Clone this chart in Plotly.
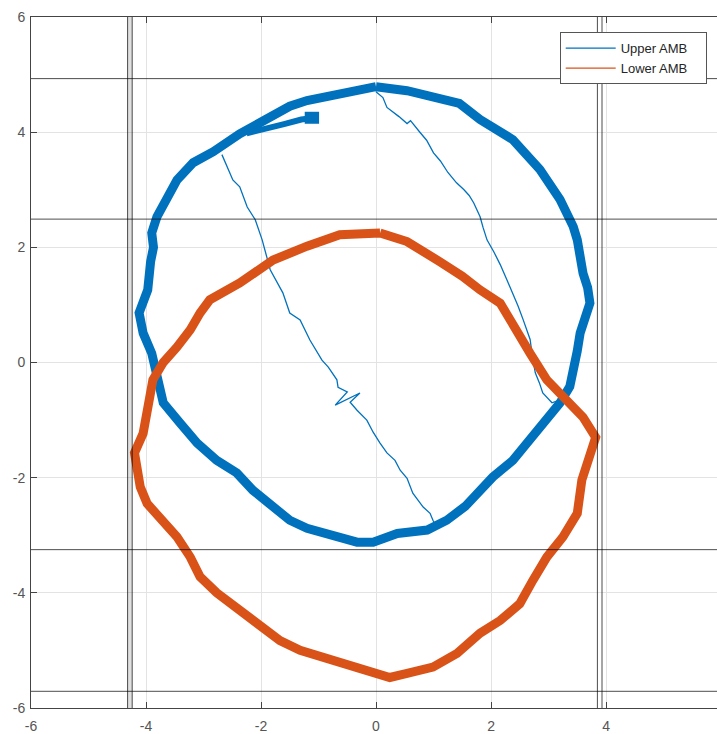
import plotly.graph_objects as go

# ---- data ----
# Upper AMB orbit (centre line of the noisy band)
upper_x = [0.0, -0.63, -1.2, -1.5, -1.79, -2.1, -2.37, -2.83, -3.18, -3.46, -3.63, -3.81, -3.9, -3.87, -3.92,
           -3.97, -4.12, -4.05, -3.9, -3.84, -3.76, -3.7, -3.41, -3.11, -2.77, -2.42, -2.14, -1.79, -1.5, -1.2,
           -0.63, -0.33, -0.05, 0.37, 0.89, 1.23, 1.55, 1.81, 2.03, 2.38, 2.68, 2.97, 3.2, 3.37, 3.46,
           3.5, 3.55, 3.72, 3.68, 3.6, 3.5, 3.43, 3.2, 2.85, 2.38, 1.81, 1.45, 1.11, 0.54, 0.0]
upper_y = [4.79, 4.67, 4.55, 4.45, 4.3, 4.15, 3.97, 3.66, 3.47, 3.17, 2.83, 2.53, 2.25, 2.0, 1.75,
           1.26, 0.86, 0.51, 0.16, -0.13, -0.48, -0.7, -1.05, -1.4, -1.7, -1.92, -2.22, -2.51, -2.74, -2.88,
           -3.03, -3.12, -3.12, -2.97, -2.91, -2.74, -2.5, -2.22, -1.99, -1.7, -1.35, -1.0, -0.7, -0.42, -0.08,
           0.2, 0.51, 1.03, 1.3, 1.55, 2.13, 2.36, 2.83, 3.35, 3.87, 4.22, 4.5, 4.58, 4.72, 4.79]

# Upper AMB start track and start blob
upper_start_x = [-2.25, -1.9, -1.6, -1.3, -1.05]
upper_start_y = [3.98, 4.08, 4.14, 4.22, 4.25]
upper_blob_x = [-1.24, -0.99]
upper_blob_y = [4.25, 4.25]

# Upper AMB transition paths (thin lines)
upper_a_x = [0.0, 0.12, 0.19, 0.3, 0.4, 0.54, 0.6, 0.77, 0.88, 1.0, 1.12, 1.25, 1.4, 1.53, 1.62, 1.7,
             1.81, 1.86, 1.93, 2.05, 2.16, 2.27, 2.38, 2.47, 2.56, 2.68, 2.72, 2.77, 2.84, 2.9, 3.06, 3.2]
upper_a_y = [4.7, 4.6, 4.43, 4.35, 4.27, 4.15, 4.2, 3.99, 3.86, 3.64, 3.5, 3.3, 3.12, 3.0, 2.9, 2.77,
             2.53, 2.35, 2.13, 1.92, 1.7, 1.45, 1.2, 0.98, 0.74, 0.4, 0.1, -0.18, -0.35, -0.53, -0.7, -0.65]
upper_b_x = [-2.68, -2.49, -2.37, -2.24, -2.1, -1.98, -1.84, -1.62, -1.5, -1.32, -1.15, -0.94, -0.83,
             -0.68, -0.66, -0.5, -0.71, -0.28, -0.45, -0.33, -0.16, -0.05, 0.07, 0.19, 0.33, 0.42, 0.54,
             0.64, 0.82, 0.94, 0.99, 1.05]
upper_b_y = [3.61, 3.17, 3.05, 2.7, 2.48, 2.13, 1.61, 1.21, 0.86, 0.74, 0.39, 0.04, -0.08,
             -0.3, -0.43, -0.51, -0.74, -0.53, -0.69, -0.83, -1.0, -1.21, -1.4, -1.57, -1.7, -1.87, -2.01,
             -2.27, -2.51, -2.62, -2.74, -2.85]

# Lower AMB orbit (centre line of the noisy band)
lower_x = [0.07, -0.63, -1.2, -1.79, -2.37, -2.59, -2.89, -3.06, -3.23, -3.46, -3.7, -3.88, -3.97, -4.05,
           -4.2, -4.16, -4.1, -3.98, -3.76, -3.46, -3.23, -3.06, -2.77, -2.37, -2.02, -1.67, -1.32, -0.92,
           -0.45, -0.05, 0.24, 0.54, 0.99, 1.41, 1.81, 2.16, 2.5, 2.73, 2.97, 3.25, 3.5, 3.58, 3.72, 3.82,
           3.6, 3.32, 2.97, 2.68, 2.45, 2.16, 1.81, 1.5, 1.11, 0.54, 0.07]
lower_y = [2.25, 2.22, 2.02, 1.78, 1.38, 1.26, 1.09, 0.86, 0.57, 0.27, 0.0, -0.3, -0.77, -1.23,
           -1.57, -1.92, -2.16, -2.45, -2.68, -3.03, -3.38, -3.72, -4.0, -4.3, -4.53, -4.83, -5.0, -5.12,
           -5.23, -5.38, -5.47, -5.4, -5.29, -5.05, -4.7, -4.48, -4.19, -3.78, -3.38, -3.03, -2.62, -2.04,
           -1.64, -1.3, -0.95, -0.65, -0.3, 0.16, 0.57, 1.03, 1.26, 1.5, 1.75, 2.1, 2.25]

# Bounding lines (min / max of each orbit)
upper_bounds_x = [-4.24, 3.85]
upper_bounds_y = [-3.25, 4.93]
lower_bounds_x = [-4.32, 3.93]
lower_bounds_y = [-5.71, 2.49]

tick_vals = [-6, -4, -2, 0, 2, 4, 6]
tick_text = ["-6", "-4", "-2", "0", "2", "4", "6"]

BLUE = "#0072BD"
ORANGE = "#D95319"
FONT = "Liberation Sans, Arial, sans-serif"

fig = go.Figure()

# Upper AMB
fig.add_trace(go.Scatter(x=upper_b_x, y=upper_b_y, mode="lines", name="Upper AMB\u2003",
                         line=dict(color=BLUE, width=1.3)))
fig.add_trace(go.Scatter(x=upper_a_x, y=upper_a_y, mode="lines", showlegend=False,
                         line=dict(color=BLUE, width=1.3)))
fig.add_trace(go.Scatter(x=upper_x, y=upper_y, mode="lines", showlegend=False,
                         line=dict(color=BLUE, width=9)))
fig.add_trace(go.Scatter(x=upper_start_x, y=upper_start_y, mode="lines", showlegend=False,
                         line=dict(color=BLUE, width=6)))
fig.add_trace(go.Scatter(x=upper_blob_x, y=upper_blob_y, mode="lines", showlegend=False,
                         line=dict(color=BLUE, width=12)))

# Lower AMB
fig.add_trace(go.Scatter(x=lower_x, y=lower_y, mode="lines", showlegend=False,
                         line=dict(color=ORANGE, width=9)))
fig.add_trace(go.Scatter(x=[None], y=[None], mode="lines", name="Lower AMB\u2003",
                         line=dict(color=ORANGE, width=1.3)))

shapes = []
line_style = dict(color="rgba(0,0,0,0.7)", width=1)
# light band between the close left pair
shapes.append(dict(type="rect", xref="x", yref="paper", x0=lower_bounds_x[0], x1=upper_bounds_x[0],
                   y0=0, y1=1, fillcolor="rgba(0,0,0,0.12)", line=dict(width=0), layer="above"))
for xv in upper_bounds_x + lower_bounds_x:
    shapes.append(dict(type="line", xref="x", yref="paper", x0=xv, x1=xv, y0=0, y1=1,
                       line=line_style, layer="above"))
for yv in upper_bounds_y + lower_bounds_y:
    shapes.append(dict(type="line", xref="paper", yref="y", x0=0, x1=1, y0=yv, y1=yv,
                       line=line_style, layer="above"))

axis_common = dict(
    tickvals=tick_vals, ticktext=tick_text, ticks="inside", ticklen=6, tickcolor="#444",
    showgrid=True, gridcolor="#e3e3e3", gridwidth=1, zeroline=False,
    showline=True, linecolor="#444", linewidth=1, automargin=False,
    tickfont=dict(family=FONT, size=14, color="#555"),
)

fig.update_layout(
    width=717, height=734,
    margin=dict(l=31, r=0, t=17, b=26, autoexpand=False),
    paper_bgcolor="white", plot_bgcolor="white",
    shapes=shapes,
    xaxis=dict(range=[-6, 5.93], mirror="ticks", ticklabelstandoff=5, **axis_common),
    yaxis=dict(range=[-6, 6], mirror=False, ticklabelstandoff=2, **axis_common),
    legend=dict(x=0.985, y=0.978, xanchor="right", yanchor="top",
                bgcolor="white", bordercolor="#555", borderwidth=1,
                font=dict(family=FONT, size=13, color="#262626"),
                itemwidth=50, tracegroupgap=0),
    showlegend=True,
)

fig.write_html("out.html",
               config={"displayModeBar": False},
               post_script="document.body.style.margin='0';document.body.style.overflow='hidden';")
